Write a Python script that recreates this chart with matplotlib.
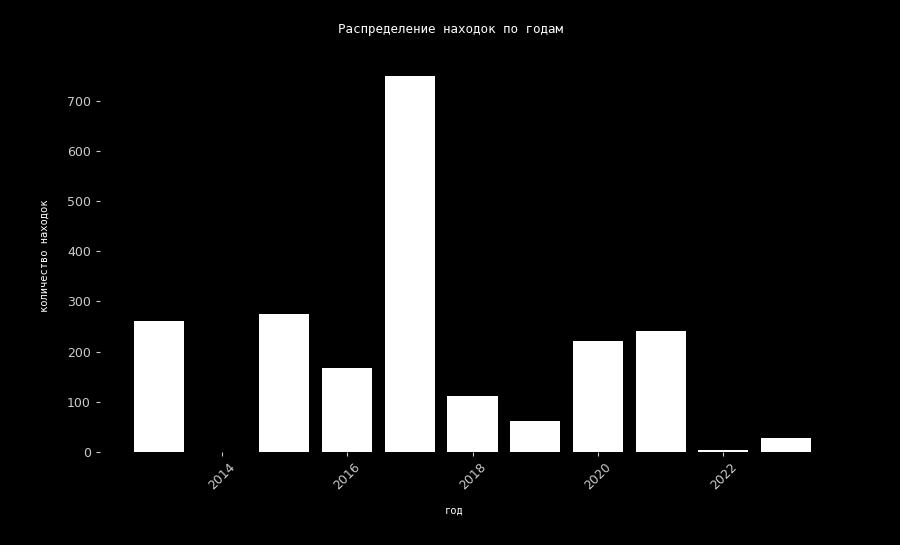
import matplotlib.pyplot as plt

years = [2013, 2014, 2015, 2016, 2017, 2018, 2019, 2020, 2021, 2022, 2023]
counts = [261, 0, 275, 168, 750, 112, 62, 221, 241, 4, 28]

fig = plt.figure(figsize=(9, 5.45), dpi=100, facecolor='black')
ax = fig.add_axes([0.111, 0.171, 0.828, 0.724])
ax.set_facecolor('black')

ax.bar(years, counts, width=0.8, color='white')

for s in ax.spines.values():
    s.set_visible(False)

ax.tick_params(axis='both', colors='#cccccc', labelsize=9, length=3, width=0.8)
ax.tick_params(axis='x', labelrotation=45)
ax.set_xticks([2014, 2016, 2018, 2020, 2022])
ax.set_yticks([0, 100, 200, 300, 400, 500, 600, 700])

# title and axis labels sit centred on the figure, not the axes
mono = 'DejaVu Sans Mono'
fig.text(0.5, 1 - 29 / 545, 'Распределение находок по годам', color='white',
         fontfamily=mono, fontsize=9, ha='center', va='center')
fig.text(454 / 900, 1 - 511 / 545, 'год', color='white',
         fontfamily=mono, fontsize=7.5, ha='center', va='center')
fig.text(45 / 900, 1 - 256 / 545, 'количество находок', color='white',
         fontfamily=mono, fontsize=7.5, ha='center', va='center', rotation=90)

fig.savefig('out.png', facecolor='black')
